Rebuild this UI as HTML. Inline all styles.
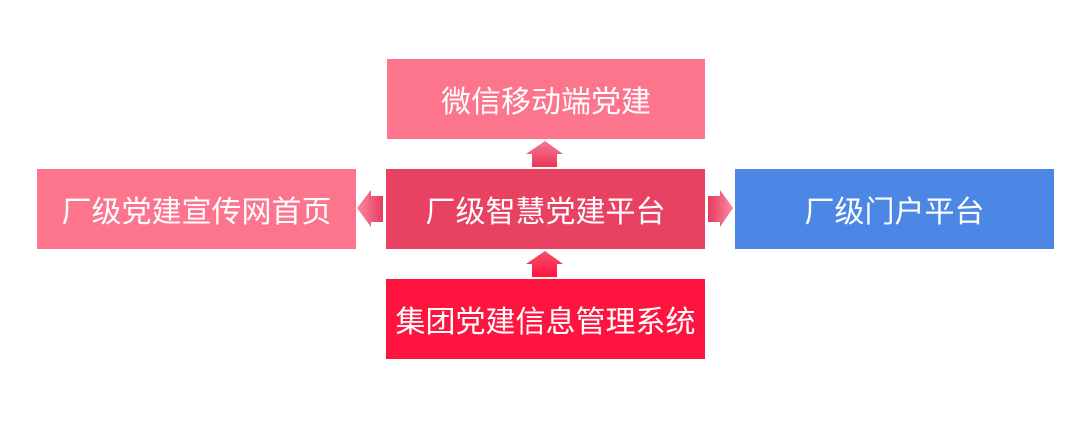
<!DOCTYPE html>
<html><head><meta charset="utf-8"><style>
body{margin:0;width:1070px;height:423px;background:#fff;position:relative;overflow:hidden;font-family:"Liberation Sans","Noto Sans CJK SC",sans-serif}
.b{position:absolute;width:319px;height:80px;color:#fff;font-size:30px;display:flex;align-items:center;justify-content:center;letter-spacing:0px}
svg{position:absolute;left:0;top:0}
</style></head><body>
<div class="b" style="left:387px;top:59px;width:318px;background:#fd758d">微信移动端党建</div>
<div class="b" style="left:37px;top:169px;background:#fd758d">厂级党建宣传网首页</div>
<div class="b" style="left:386px;top:169px;background:#e84162">厂级智慧党建平台</div>
<div class="b" style="left:735px;top:169px;background:#4d87e6">厂级门户平台</div>
<div class="b" style="left:386px;top:279px;background:#ff143f">集团党建信息管理系统</div>
<svg width="1070" height="423">
<defs>
<linearGradient id="gv" x1="0" y1="0" x2="0" y2="1"><stop offset="0" stop-color="#f97a90"/><stop offset="1" stop-color="#e8345a"/></linearGradient>
<linearGradient id="gb" x1="0" y1="0" x2="0" y2="1"><stop offset="0" stop-color="#f4506e"/><stop offset="1" stop-color="#ff143f"/></linearGradient>
<linearGradient id="gl" x1="0" y1="0" x2="1" y2="0"><stop offset="0" stop-color="#fa8aa0"/><stop offset="1" stop-color="#e83a5e"/></linearGradient>
<linearGradient id="gr" x1="0" y1="0" x2="1" y2="0"><stop offset="0" stop-color="#e83a5e"/><stop offset="1" stop-color="#fa8aa0"/></linearGradient>
</defs>
<polygon points="545,141 563,154 557,154 557,167 532,167 532,154 526,154" fill="url(#gv)"/>
<polygon points="545,251 563,264 557,264 557,277 532,277 532,264 526,264" fill="url(#gb)"/>
<polygon points="357,208 371,190 371,196 383,196 383,222 371,222 371,227" fill="url(#gl)"/>
<polygon points="733,208 720,190 720,196 708,196 708,222 720,222 720,227" fill="url(#gr)"/>
</svg>
</body></html>
